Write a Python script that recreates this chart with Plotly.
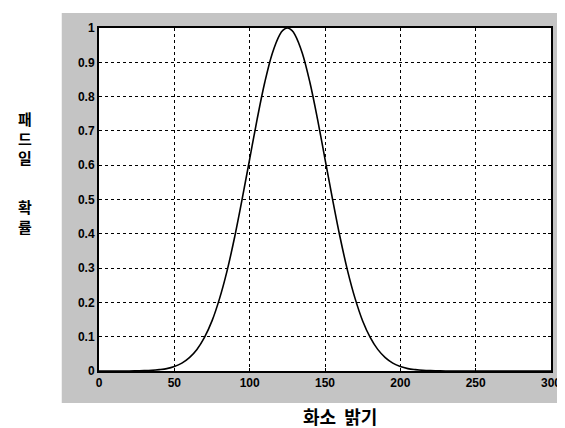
import plotly.graph_objects as go

# Data
brightness = [0, 5, 10, 15, 20, 25, 30, 35, 40, 45, 50, 55, 60, 65, 70, 75, 80, 85, 90, 95,
              100, 105, 110, 115, 120, 122, 125, 128, 130, 135, 140, 145, 150, 155, 160, 165, 170,
              175, 180, 185, 190, 195, 200, 205, 210, 215, 220, 225, 230, 240, 250, 260,
              270, 280, 290, 300]
probability = [0, 0, 0, 0, 0, 0.0005, 0.001, 0.002, 0.004, 0.007, 0.013, 0.023, 0.039, 0.063,
               0.098, 0.146, 0.211, 0.292, 0.390, 0.501, 0.618, 0.735, 0.841, 0.926, 0.981,
               0.993, 1.0, 0.993, 0.981, 0.926, 0.841, 0.735, 0.618, 0.501, 0.390, 0.292, 0.211, 0.146,
               0.098, 0.063, 0.039, 0.023, 0.013, 0.007, 0.004, 0.002, 0.001, 0.0005, 0,
               0, 0, 0, 0, 0, 0, 0]
x_ticks = [0, 50, 100, 150, 200, 250, 300]
y_ticks = [0, 0.1, 0.2, 0.3, 0.4, 0.5, 0.6, 0.7, 0.8, 0.9, 1]
y_tick_text = ["0", "0.1", "0.2", "0.3", "0.4", "0.5", "0.6", "0.7", "0.8", "0.9", "1"]
x_title = "화소  밝기"
y_title_parts = ["패<br>드<br>일", "확<br>률"]

fig = go.Figure()
fig.add_trace(go.Scatter(x=brightness, y=probability, mode="lines", line_shape="spline",
                         line=dict(color="black", width=1.6), showlegend=False))

W, H = 565, 428
L, R, T, B = 91, 13, 20, 65
pw, ph = W - L - R, H - T - B

def px_to_paper_x(px):
    return (px - L) / pw

def px_to_paper_y(py):
    return (H - B - py) / ph

fig.add_shape(type="rect", xref="paper", yref="paper",
              x0=px_to_paper_x(53), x1=px_to_paper_x(566),
              y0=px_to_paper_y(395), y1=px_to_paper_y(5),
              fillcolor="#c4c4c4", line=dict(width=0), layer="below")
fig.add_shape(type="rect", xref="paper", yref="paper",
              x0=0, x1=1, y0=0, y1=1,
              fillcolor="white", line=dict(width=0), layer="below")

tickfont = dict(family="Liberation Sans, Arial, sans-serif", size=12, color="black", weight="bold")
axis_common = dict(showline=True, linecolor="black", linewidth=2, mirror="ticks",
                   ticks="inside", ticklen=3, tickcolor="black",
                   showgrid=True, gridcolor="black", gridwidth=1, griddash="dot",
                   zeroline=False, tickfont=tickfont)

fig.update_xaxes(range=[0, 300], tickvals=x_ticks, ticktext=[str(v) for v in x_ticks], **axis_common)
fig.update_yaxes(range=[0, 1], tickvals=y_ticks, ticktext=y_tick_text, **axis_common)

fig.update_layout(width=W, height=H, margin=dict(l=L, r=R, t=T, b=B),
                  paper_bgcolor="white", plot_bgcolor="white")

fig.add_annotation(text=x_title, xref="paper", yref="paper",
                   x=px_to_paper_x(337), y=px_to_paper_y(408), showarrow=False,
                   font=dict(family="Noto Sans CJK KR", size=18, color="black", weight="bold"),
                   xanchor="center", yanchor="middle")

y_centers = [130, 208]
for txt, yp in zip(y_title_parts, y_centers):
    fig.add_annotation(text=txt, xref="paper", yref="paper",
                       x=px_to_paper_x(16), y=px_to_paper_y(yp), showarrow=False,
                       font=dict(family="Noto Sans CJK KR", size=15, color="black", weight="bold"),
                       xanchor="center", yanchor="middle")

fig.write_html("out.html")
